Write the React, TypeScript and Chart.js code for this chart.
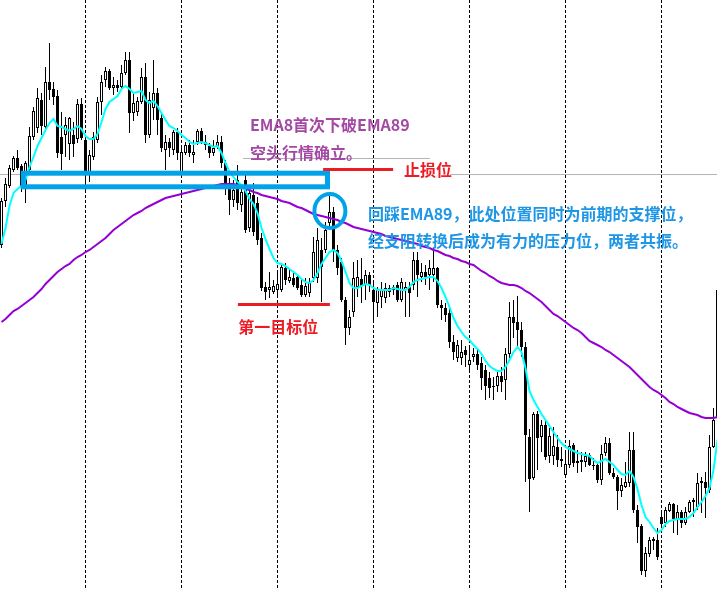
import React, { useEffect, useRef } from "react";
import { Chart, registerables } from "chart.js";

Chart.register(...registerables);

// ---- candle data (price units) ----
const open = [
  355, 399, 414, 430, 442, 434, 413, 430, 463, 472, 500, 473, 518, 511, 504, 463, 465, 456, 465, 461,
  496, 460, 427, 443, 460, 498, 520, 529, 512, 515, 513, 527, 540, 487, 488, 498, 523, 465, 492, 507,
  482, 450, 458, 450, 468, 427, 447, 455, 445, 458, 469, 455, 454, 447, 454, 458, 437, 415, 400, 420,
  395, 420, 372, 405, 397, 362, 313, 310, 308, 310, 310, 332, 319, 322, 323, 315, 305, 307, 322, 322,
  350, 350, 377, 388, 350, 338, 300, 272, 288, 313, 321, 315, 325, 310, 297, 303, 302, 308, 310, 315,
  300, 310, 313, 315, 340, 323, 328, 325, 325, 332, 295, 292, 287, 258, 242, 242, 250, 235, 243, 246,
  237, 230, 222, 214, 214, 224, 220, 246, 283, 278, 270, 253, 163, 122, 186, 163, 175, 144, 144, 153,
  141, 125, 135, 155, 139, 140, 138, 145, 135, 135, 120, 147, 157, 127, 123, 109, 113, 117, 150, 90,
  74, 29, 46, 59, 60, 83, 77, 89, 96, 81, 88, 77, 88, 100, 93, 117, 118, 110, 153, 182,
];
const high = [
  402, 422, 435, 444, 450, 436, 439, 473, 493, 512, 507, 533, 557, 518, 510, 488, 483, 483, 478, 501,
  502, 465, 450, 468, 503, 525, 533, 531, 523, 520, 535, 548, 548, 506, 503, 532, 537, 508, 540, 512,
  488, 465, 462, 470, 472, 454, 458, 460, 460, 471, 472, 465, 457, 460, 465, 464, 440, 422, 420, 435,
  412, 425, 410, 417, 403, 367, 318, 328, 320, 330, 337, 337, 332, 327, 325, 322, 322, 322, 363, 372,
  362, 378, 404, 393, 355, 342, 303, 290, 338, 340, 342, 330, 328, 320, 313, 318, 317, 315, 315, 318,
  322, 318, 318, 348, 348, 337, 335, 340, 352, 333, 300, 297, 292, 265, 260, 260, 254, 252, 252, 250,
  243, 235, 228, 223, 228, 233, 252, 298, 300, 304, 278, 258, 171, 188, 189, 180, 179, 172, 173, 165,
  153, 148, 160, 157, 150, 148, 148, 147, 142, 138, 155, 163, 162, 132, 125, 122, 138, 168, 168, 95,
  76, 53, 63, 63, 72, 90, 93, 98, 97, 95, 90, 93, 100, 102, 127, 123, 128, 165, 192, 315,
];
const low = [
  352, 393, 412, 428, 430, 408, 397, 426, 460, 467, 465, 470, 500, 495, 442, 430, 443, 440, 443, 457,
  460, 410, 418, 440, 457, 485, 513, 510, 505, 508, 510, 525, 467, 479, 484, 496, 457, 462, 480, 465,
  448, 430, 443, 445, 440, 424, 445, 443, 437, 455, 456, 450, 442, 444, 451, 432, 405, 385, 393, 390,
  388, 367, 368, 364, 355, 309, 300, 302, 306, 303, 308, 315, 317, 313, 310, 303, 303, 303, 318, 317,
  298, 347, 374, 338, 325, 298, 255, 265, 283, 303, 297, 300, 308, 280, 283, 292, 297, 303, 305, 298,
  298, 283, 283, 310, 303, 318, 315, 310, 318, 292, 280, 278, 252, 240, 238, 235, 233, 230, 238, 230,
  210, 200, 202, 200, 208, 208, 200, 242, 262, 252, 243, 118, 88, 120, 130, 148, 140, 137, 135, 133,
  133, 123, 132, 133, 127, 128, 133, 134, 130, 117, 115, 144, 125, 121, 90, 103, 112, 113, 87, 57,
  25, 23, 43, 50, 40, 75, 73, 88, 67, 65, 72, 75, 87, 83, 90, 87, 82, 107, 152, 180,
];
const close = [
  399, 416, 432, 442, 432, 412, 437, 464, 489, 502, 474, 518, 510, 503, 447, 446, 475, 482, 456, 496,
  462, 427, 445, 463, 498, 518, 529, 512, 515, 512, 527, 540, 487, 497, 499, 523, 465, 500, 507, 480,
  452, 458, 452, 468, 447, 448, 455, 447, 448, 469, 458, 458, 447, 452, 458, 437, 417, 400, 410, 397,
  408, 370, 407, 368, 360, 312, 308, 313, 314, 316, 333, 320, 323, 315, 312, 305, 314, 317, 348, 360,
  333, 370, 388, 350, 332, 300, 272, 283, 322, 323, 314, 325, 315, 298, 310, 310, 312, 312, 313, 300,
  318, 313, 307, 340, 325, 328, 323, 332, 332, 295, 292, 285, 258, 248, 255, 248, 245, 240, 246, 235,
  222, 214, 212, 213, 224, 218, 246, 283, 277, 270, 253, 165, 121, 186, 162, 175, 143, 164, 154, 140,
  139, 136, 154, 137, 137, 138, 144, 135, 134, 120, 146, 157, 127, 123, 109, 115, 118, 150, 90, 73,
  29, 47, 60, 61, 43, 76, 90, 96, 81, 88, 77, 88, 98, 98, 117, 119, 112, 153, 180, 310,
];

// ---- indicator lines ----
const ema8 = [
  356, 372, 394, 407, 411, 414, 420, 433, 443, 454, 462, 470, 477, 481, 474, 473, 471, 469, 471, 474,
  471, 464, 461, 461, 466, 478, 491, 498, 501, 504, 511, 514, 511, 507, 508, 509, 500, 497, 499, 494,
  487, 480, 474, 472, 469, 465, 462, 458, 456, 457, 458, 457, 455, 453, 454, 447, 437, 428, 423, 418,
  415, 409, 401, 396, 387, 372, 361, 351, 342, 337, 336, 334, 331, 328, 325, 321, 318, 317, 320, 327,
  336, 342, 348, 350, 347, 339, 328, 317, 312, 312, 314, 316, 315, 312, 310, 310, 310, 310, 312, 311,
  310, 310, 313, 318, 320, 321, 322, 323, 323, 319, 312, 303, 293, 282, 274, 268, 263, 260, 255, 251,
  246, 239, 234, 231, 229, 229, 233, 240, 248, 253, 248, 232, 209, 200, 193, 186, 180, 174, 168, 162,
  157, 153, 151, 149, 147, 146, 145, 144, 140, 137, 139, 141, 138, 135, 130, 126, 125, 129, 123, 111,
  95, 83, 78, 72, 67, 70, 76, 79, 80, 81, 81, 81, 83, 87, 93, 98, 104, 112, 130, 160,
];
const ema89 = [
  278, 281, 285, 289, 291, 294, 297, 300, 303, 307, 311, 316, 320, 324, 328, 331, 334, 336, 340, 343,
  345, 348, 350, 353, 356, 359, 362, 366, 370, 373, 376, 379, 382, 385, 387, 389, 392, 394, 396, 398,
  400, 402, 403, 404, 405, 406, 407, 408, 409, 410, 411, 412, 413, 414, 415, 416, 416, 416, 416, 415,
  413, 411, 410, 408, 407, 405, 404, 403, 402, 401, 399, 398, 397, 395, 393, 392, 390, 388, 386, 385,
  384, 383, 382, 381, 380, 378, 377, 375, 373, 372, 371, 370, 369, 368, 367, 366, 364, 363, 362, 361,
  360, 359, 358, 357, 356, 354, 353, 352, 350, 349, 347, 345, 344, 342, 341, 339, 338, 336, 335, 332,
  329, 327, 324, 322, 319, 317, 316, 315, 315, 314, 312, 309, 307, 304, 301, 298, 294, 290, 286, 284,
  281, 278, 275, 272, 270, 267, 263, 259, 257, 255, 253, 250, 248, 245, 242, 239, 236, 233, 229, 225,
  221, 217, 213, 210, 208, 205, 202, 198, 196, 193, 191, 189, 187, 186, 185, 183, 182, 182, 182, 183,
];

// bar index of each period separator (dashed vertical lines)
const separators = [21, 45, 69, 93, 117, 141, 165];

const candleIdx = open.map((_, i) => i);

// annotation objects, in bar-index / price units
const annotations = {
  box: { x1: 5.45, x2: 81.5, top: 426.8, bottom: 413.2 },
  ring: { x: 82.1, y: 389 },
  stopLine: { x1: 80.4, x2: 97.9, y: 430.5 },
  targetLine: { x1: 59.1, x2: 82.1, y: 295.5 },
  grayLines: [
    { x1: 60.4, x2: 107.1, y: 442 },
    { x1: -1, x2: 5.4, y: 426 },
    { x1: 112.2, x2: 180, y: 426 },
  ],
  texts: [
    { t: "EMA8首次下破EMA89", x: 62.1, y: 475, c: "#A349A4" },
    { t: "空头行情确立。", x: 62.1, y: 447, c: "#A349A4" },
    { t: "止损位", x: 100.6, y: 430, c: "#ED1C24" },
    { t: "第一目标位", x: 59.2, y: 273, c: "#ED1C24" },
    { t: "回踩EMA89，此处位置同时为前期的支撑位，", x: 91.6, y: 386, c: "#1E96E6" },
    { t: "经支阻转换后成为有力的压力位，两者共振。", x: 91.6, y: 359, c: "#1E96E6" },
  ],
};

const BLUE = "#00A2E8";
const RED = "#ED1C24";

const bgPlugin = {
  id: "bgLines",
  beforeDatasetsDraw(chart: any) {
    const { ctx, scales, chartArea } = chart;
    const xs = scales.x;
    const ys = scales.y;
    ctx.save();
    // gray horizontal lines
    ctx.strokeStyle = "#B4B4B4";
    ctx.lineWidth = 1;
    for (const g of annotations.grayLines) {
      const y = Math.round(ys.getPixelForValue(g.y)) + 0.5;
      ctx.beginPath();
      ctx.moveTo(xs.getPixelForValue(g.x1), y);
      ctx.lineTo(xs.getPixelForValue(g.x2), y);
      ctx.stroke();
    }
    // period separators
    ctx.strokeStyle = "#000";
    ctx.setLineDash([3, 2]);
    for (const s of separators) {
      const x = xs.getPixelForValue(s);
      ctx.beginPath();
      ctx.moveTo(x, chartArea.top);
      ctx.lineTo(x, chartArea.bottom);
      ctx.stroke();
    }
    ctx.restore();
  },
};

const annoPlugin = {
  id: "annos",
  afterDatasetsDraw(chart: any) {
    const { ctx, scales } = chart;
    const xs = scales.x;
    const ys = scales.y;
    const px = (v: number) => xs.getPixelForValue(v);
    const py = (v: number) => ys.getPixelForValue(v);
    ctx.save();
    // blue box
    const b = annotations.box;
    ctx.strokeStyle = BLUE;
    ctx.lineWidth = 5;
    ctx.strokeRect(px(b.x1), py(b.top), px(b.x2) - px(b.x1), py(b.bottom) - py(b.top));
    // ring
    ctx.lineWidth = 4;
    ctx.beginPath();
    ctx.ellipse(px(annotations.ring.x), py(annotations.ring.y), 15.5, 17, 0, 0, Math.PI * 2);
    ctx.stroke();
    // red lines
    ctx.strokeStyle = RED;
    ctx.lineWidth = 3;
    for (const l of [annotations.stopLine, annotations.targetLine]) {
      ctx.beginPath();
      ctx.moveTo(px(l.x1), py(l.y));
      ctx.lineTo(px(l.x2), py(l.y));
      ctx.stroke();
    }
    // texts
    ctx.font = 'bold 16px "Noto Sans CJK SC", sans-serif';
    ctx.textBaseline = "middle";
    ctx.textAlign = "left";
    for (const t of annotations.texts) {
      ctx.fillStyle = t.c;
      ctx.fillText(t.t, px(t.x), py(t.y));
    }
    ctx.restore();
  },
};

export default function App() {
  const ref = useRef<HTMLCanvasElement | null>(null);
  useEffect(() => {
    document.body.style.margin = "0";
    document.body.style.background = "#fff";
    const canvas = ref.current;
    if (!canvas) return;
    const bodyColors = candleIdx.map((i) => (close[i] > open[i] ? "#ffffff" : "#000000"));
    const chart = new Chart(canvas, {
      type: "bar",
      data: {
        datasets: [
          {
            type: "line",
            label: "EMA8",
            data: candleIdx.map((i) => ({ x: i, y: ema8[i] })),
            borderColor: "#00FFFF",
            borderWidth: 2,
            pointRadius: 0,
            tension: 0,
            order: 1,
          } as any,
          {
            type: "line",
            label: "EMA89",
            data: candleIdx.map((i) => ({ x: i, y: ema89[i] })),
            borderColor: "#9400D3",
            borderWidth: 2,
            pointRadius: 0,
            tension: 0,
            order: 2,
          } as any,
          {
            type: "bar",
            label: "body",
            data: candleIdx.map((i) => ({ x: i, y: [open[i], close[i]] })),
            backgroundColor: bodyColors,
            borderColor: "#000000",
            borderWidth: 1,
            borderSkipped: false,
            barThickness: 3,
            grouped: false,
            inflateAmount: 0,
            order: 3,
          } as any,
          {
            type: "bar",
            label: "wick",
            data: candleIdx.map((i) => ({ x: i, y: [low[i], high[i]] })),
            backgroundColor: "#000000",
            borderWidth: 0,
            barThickness: 1,
            grouped: false,
            inflateAmount: 0,
            order: 4,
          } as any,
        ],
      },
      options: {
        responsive: false,
        devicePixelRatio: 1,
        animation: false,
        events: [],
        layout: { padding: 0 },
        plugins: { legend: { display: false }, tooltip: { enabled: false } },
        scales: {
          x: { type: "linear", min: -0.375, max: 178.875, display: false, offset: false },
          y: { type: "linear", min: 10, max: 600, display: false },
        },
      },
      plugins: [bgPlugin, annoPlugin],
    });
    return () => chart.destroy();
  }, []);
  return (
    <div style={{ width: 717, height: 590, overflow: "hidden" }}>
      <canvas ref={ref} width={717} height={590} style={{ display: "block" }} />
    </div>
  );
}
